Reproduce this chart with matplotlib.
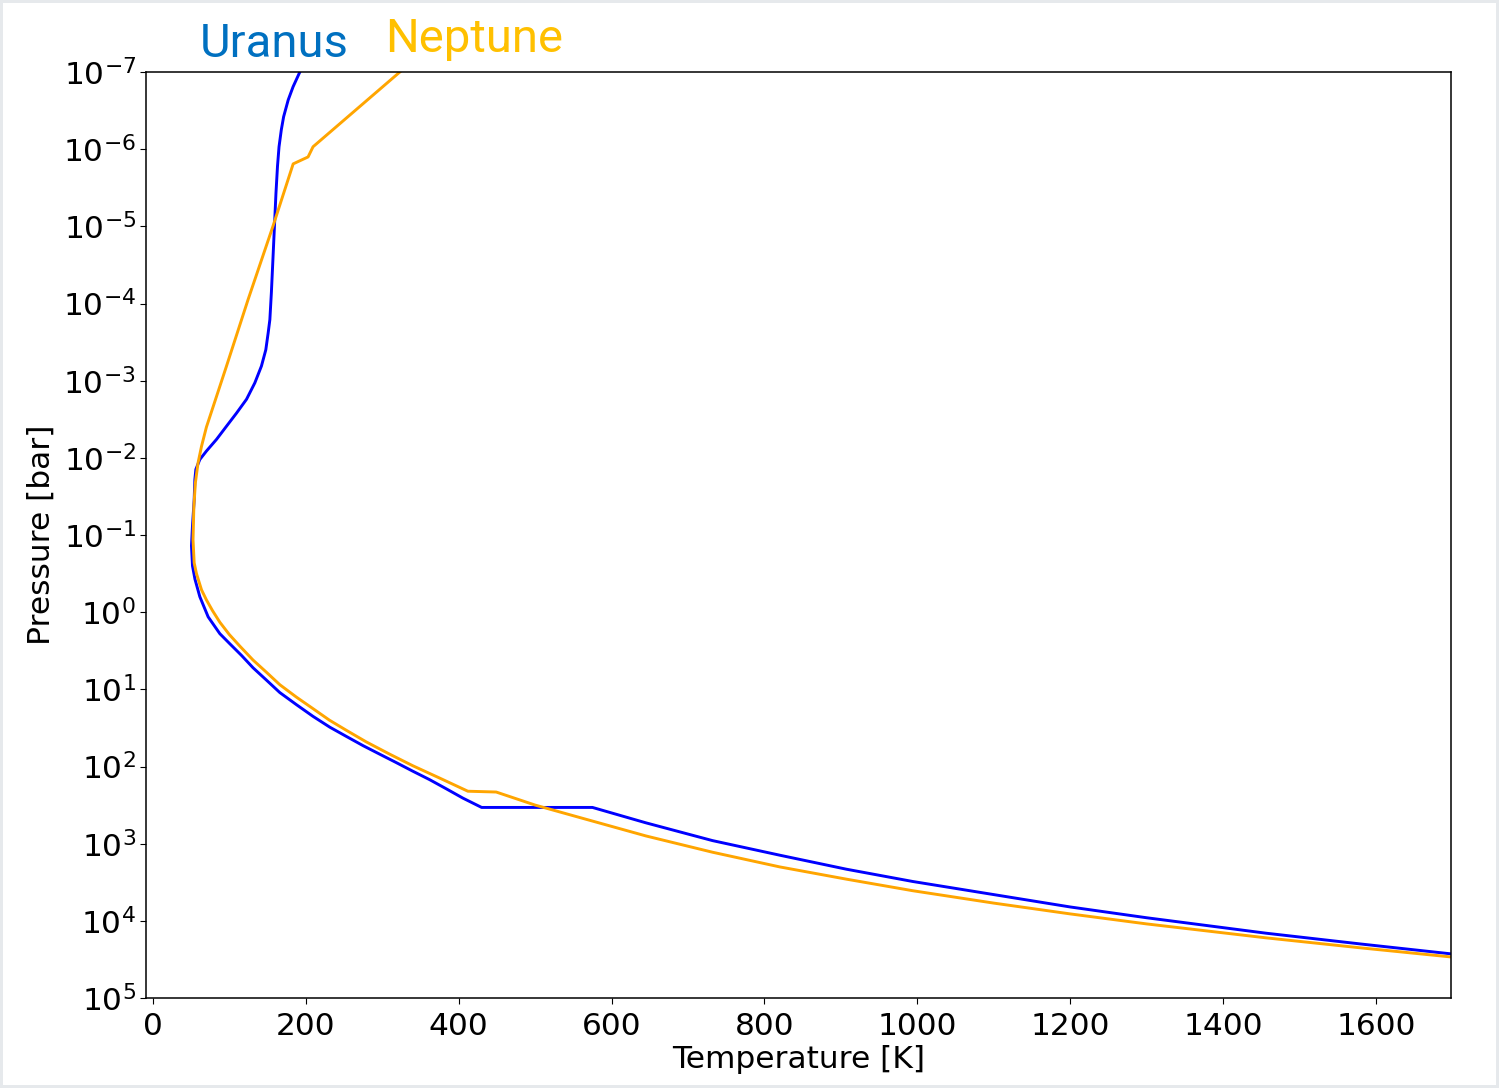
import matplotlib.pyplot as plt

# Uranus temperature-pressure profile (T in K, P in bar)
uranus_T = [192.2, 183.4, 177, 171, 168, 165, 163, 161, 159, 157, 155, 153, 150.8,
            147.7, 142, 133.3, 122.5, 109.4, 96.3, 83.3, 70.2, 61.4, 56.2, 54.9,
            54, 51.8, 50.5, 51.8, 55, 61.4, 72.3, 87.6, 100.7, 115.9, 131, 148.6,
            166, 187.8, 209.5, 231.4, 253, 275, 296.7, 318.5, 340, 362, 384, 405.6,
            430, 575, 645, 732, 820, 907, 994, 1100, 1200, 1300, 1456, 1580, 1700]
uranus_P = [1e-7, 1.55e-7, 2.3e-7, 3.8e-7, 5.6e-7, 9.3e-7, 1.66e-6, 3.7e-6, 1e-5,
            2.7e-5, 7.2e-5, 1.62e-4, 2.4e-4, 3.98e-4, 6.46e-4, 1.07e-3, 1.74e-3,
            2.63e-3, 3.89e-3, 5.75e-3, 8.13e-3, 1.05e-2, 1.41e-2, 1.91e-2, 3.5e-2,
            7.6e-2, 0.138, 0.251, 0.372, 0.63, 1.15, 1.9, 2.57, 3.63, 5.25, 7.6,
            11.0, 15.8, 22.4, 30.9, 40.7, 53.7, 69.2, 89.1, 115, 148, 195, 257,
            339, 339, 537, 912, 1410, 2140, 3090, 4570, 6610, 9120, 14450, 19950,
            26900]

# Neptune temperature-pressure profile
neptune_T = [323, 209.5, 203, 183.5, 157, 124.5, 96, 70, 63.6, 59, 55.6, 53.6,
             52.5, 54, 57, 63.6, 70, 78, 87.6, 100, 113.7, 131, 148.5, 166, 187.7,
             209.5, 231, 253, 279, 309.8, 340, 375, 412, 449, 500, 558, 645, 732,
             820, 907, 994, 1100, 1200, 1300, 1456, 1580, 1700]
neptune_P = [1e-7, 9.3e-7, 1.26e-6, 1.55e-6, 1e-5, 8.9e-5, 6.6e-4, 4e-3, 7.1e-3,
             1.17e-2, 2.1e-2, 4.3e-2, 0.115, 0.229, 0.316, 0.513, 0.692, 0.955,
             1.35, 1.95, 2.75, 4.17, 6.0, 8.7, 12.6, 17.8, 25.1, 33.9, 47.9, 69.2,
             97.7, 141, 209, 214, 316, 457, 794, 1290, 2000, 2880, 4070, 5890,
             8130, 10960, 16600, 22390, 29500]

plt.rcParams['font.size'] = 22.5

fig = plt.figure(figsize=(14.99, 10.88), dpi=100)
fig.patch.set_edgecolor('#e6e9ec')
fig.patch.set_linewidth(4)
ax = fig.add_axes([0.0974, 0.0827, 0.8706, 0.8511])

ax.plot(uranus_T, uranus_P, color='blue', lw=2.1)
ax.plot(neptune_T, neptune_P, color='orange', lw=2.1)

ax.set_yscale('log')
ax.set_ylim(1e5, 1e-7)
ax.set_xlim(-9, 1698)
ax.set_xticks([0, 200, 400, 600, 800, 1000, 1200, 1400, 1600])
ax.set_yticks([10.0 ** k for k in range(-7, 6)])
ax.minorticks_off()
ax.tick_params(axis='both', length=4.2)
ax.tick_params(axis='x', pad=6)
ax.tick_params(axis='y', pad=3)
ax.set_xlabel('Temperature [K]', labelpad=3)
ax.set_ylabel('Pressure [bar]', labelpad=5)
for s in ax.spines.values():
    s.set_linewidth(1.1)

fig.text(0.1334, 0.9476, 'Uranus', color='#0070C0', fontsize=34, family='Roboto')
fig.text(0.2568, 0.9522, 'Neptune', color='#FFC000', fontsize=34, family='Roboto')

fig.savefig('out.png', dpi=100)
